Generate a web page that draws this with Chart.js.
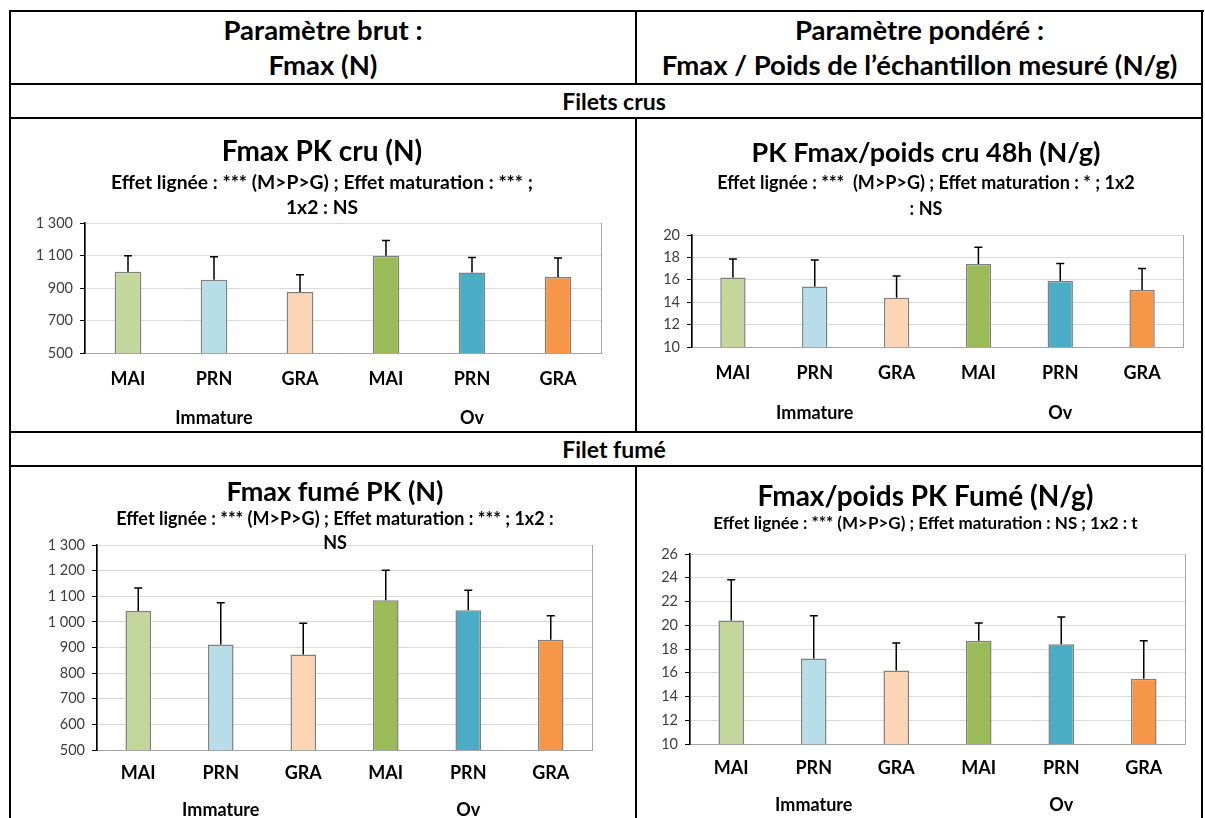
<!DOCTYPE html>
<html>
<head>
<meta charset="utf-8">
<script src="https://cdn.jsdelivr.net/npm/chart.js@4"></script>
<style>
  body { margin: 0; background: #fff; }
  #page { position: relative; width: 1205px; height: 818px; overflow: hidden; font-family: Lato, sans-serif; }
  .ln { position: absolute; background: #000; }
  .txt { position: absolute; text-align: center; font-weight: bold; color: #000; white-space: nowrap; }
  canvas { position: absolute; }
</style>
</head>
<body>
<div id="page">
  <!-- table rules -->
  <div class="ln" style="left:9px;top:10px;width:1195px;height:2px"></div>
  <div class="ln" style="left:9px;top:10px;width:2px;height:808px"></div>
  <div class="ln" style="left:1201px;top:10px;width:2px;height:808px"></div>
  <div class="ln" style="left:9px;top:83px;width:1194px;height:2px"></div>
  <div class="ln" style="left:9px;top:117px;width:1194px;height:2px"></div>
  <div class="ln" style="left:9px;top:431px;width:1194px;height:2px"></div>
  <div class="ln" style="left:9px;top:465px;width:1194px;height:2px"></div>
  <div class="ln" style="left:635px;top:10px;width:2px;height:74px"></div>
  <div class="ln" style="left:635px;top:118px;width:2px;height:314px"></div>
  <div class="ln" style="left:635px;top:466px;width:2px;height:352px"></div>

  <div class="txt" style="left:12px;width:622px;top:12px;line-height:35px;font-size:27.5px">Paramètre brut :<br>Fmax (N)</div>
  <div class="txt" style="left:638px;width:563px;top:12px;line-height:35px;font-size:27.5px">Paramètre pondéré :<br>Fmax / Poids de l’échantillon mesuré (N/g)</div>
  <div class="txt" style="left:514px;width:200px;top:84px;line-height:34px;font-size:23px">Filets crus</div>
  <div class="txt" style="left:514px;width:200px;top:432px;line-height:34px;font-size:23px">Filet fumé</div>

  <canvas id="c1" width="620" height="311" style="left:12px;top:120px"></canvas>
  <canvas id="c2" width="572" height="311" style="left:640px;top:120px"></canvas>
  <canvas id="c3" width="646" height="350" style="left:12px;top:468px"></canvas>
  <canvas id="c4" width="571" height="350" style="left:640px;top:468px"></canvas>
</div>

<script>
const categories = ["MAI", "PRN", "GRA", "MAI", "PRN", "GRA"];
const groups = ["", "Immature", "", "", "Ov", ""];
const barColors = ["#C3D69B", "#B7DEE8", "#FCD5B5", "#9BBB59", "#4BACC6", "#F79646"];

// Filets crus
const fmaxCru = [1000, 951, 875, 1098, 996, 967];
const fmaxCruErr = [98, 141, 107, 94, 92, 117];
const poidsCru = [16.2, 15.4, 14.4, 17.4, 15.9, 15.1];
const poidsCruErr = [1.65, 2.36, 1.93, 1.5, 1.56, 1.9];

// Filet fume
const fmaxFume = [1042, 912, 873, 1084, 1045, 930];
const fmaxFumeErr = [90, 163, 122, 117, 78, 94];
const poidsFume = [20.4, 17.2, 16.2, 18.7, 18.4, 15.5];
const poidsFumeErr = [3.44, 3.6, 2.3, 1.5, 2.3, 3.2];

// y axis ranges: [min, max, step]
const fmaxCruTicks = [500, 1300, 200];
const poidsCruTicks = [10, 20, 2];
const fmaxFumeTicks = [500, 1300, 100];
const poidsFumeTicks = [10, 26, 2];

const FONT = "Lato";
const CAT_SIZE = 18;
const GROUP_SIZE = 18;
const CAT_BOX = 45;

function frNumber(v) {
    if (v >= 1000) {
        return Math.floor(v / 1000) + " " + String(v % 1000).padStart(3, "0");
    }
    return String(v);
}

const plotBorder = {
    id: "plotBorder",
    beforeDraw(chart) {
        const { ctx, chartArea } = chart;
        ctx.save();
        ctx.strokeStyle = "#a6a6a6";
        ctx.lineWidth = 1;
        ctx.strokeRect(Math.round(chartArea.left) + 0.5, Math.round(chartArea.top) + 0.5,
            Math.round(chartArea.right - chartArea.left), Math.round(chartArea.bottom - chartArea.top));
        ctx.restore();
    },
};

const errorBars = {
    id: "errorBars",
    afterDatasetsDraw(chart) {
        const ctx = chart.ctx;
        const yScale = chart.scales.y;
        chart.data.datasets.forEach((ds, i) => {
            chart.getDatasetMeta(i).data.forEach((bar, j) => {
                const top = yScale.getPixelForValue(ds.data[j] + ds.errors[j]);
                ctx.save();
                ctx.strokeStyle = "#000";
                ctx.lineWidth = 1.5;
                ctx.beginPath();
                ctx.moveTo(bar.x, bar.y);
                ctx.lineTo(bar.x, top);
                ctx.moveTo(bar.x - 4, top);
                ctx.lineTo(bar.x + 4, top);
                ctx.stroke();
                ctx.restore();
            });
        });
    },
};

// o.box: canvas-relative plot rectangle [left, top, right, bottom]
// o.textY: canvas-relative centre lines [title, first subtitle line, categories, groups]
function buildChart(id, o) {
    const canvas = document.getElementById(id);
    const ctx = canvas.getContext("2d");
    const [left, top, right, bottom] = o.box;
    const [titleY, subY, catY, groupY] = o.textY;
    const titleLH = o.titleSize * 1.2;
    const subLines = Array.isArray(o.subtitle) ? o.subtitle.length : 1;
    const subTop = subY - o.subLH / 2;
    const catLH = CAT_SIZE * 1.2;
    const groupLH = GROUP_SIZE * 1.2;

    return new Chart(ctx, {
        type: "bar",
        data: {
            labels: categories,
            datasets: [
                {
                    data: o.values,
                    errors: o.errors,
                    backgroundColor: barColors,
                    borderColor: "#808080",
                    borderWidth: 1.5,
                    barPercentage: 0.31,
                    categoryPercentage: 1,
                },
            ],
        },
        options: {
            responsive: false,
            animation: false,
            layout: { padding: 0 },
            plugins: {
                legend: { display: false },
                tooltip: { enabled: false },
                title: {
                    display: true,
                    text: o.title,
                    color: "#000",
                    font: { family: FONT, size: o.titleSize, weight: "bold", lineHeight: 1.2 },
                    padding: { top: titleY - titleLH / 2, bottom: 0 },
                },
                subtitle: {
                    display: true,
                    text: o.subtitle,
                    color: "#000",
                    font: { family: FONT, size: o.subSize, weight: "bold", lineHeight: o.subLH / o.subSize },
                    padding: {
                        top: subTop - (titleY + titleLH / 2),
                        bottom: top - subTop - subLines * o.subLH,
                    },
                },
            },
            scales: {
                x: {
                    offset: true,
                    grid: { display: false, drawTicks: false, tickLength: 0 },
                    border: { color: "#a6a6a6", width: 1 },
                    ticks: {
                        color: "#000",
                        font: { family: FONT, size: CAT_SIZE, weight: "bold", lineHeight: 1.2 },
                        padding: catY - bottom - catLH / 2,
                        autoSkip: false,
                        maxRotation: 0,
                    },
                    afterFit: (s) => { s.height = CAT_BOX; },
                },
                x2: {
                    type: "category",
                    position: "bottom",
                    weight: 1,
                    offset: true,
                    labels: groups,
                    grid: { display: false, drawTicks: false, tickLength: 0 },
                    border: { display: false },
                    ticks: {
                        color: "#000",
                        font: { family: FONT, size: GROUP_SIZE, weight: "bold", lineHeight: 1.2 },
                        padding: groupY - (bottom + CAT_BOX) - groupLH / 2,
                        autoSkip: false,
                        maxRotation: 0,
                    },
                    afterFit: (s) => { s.height = canvas.height - bottom - CAT_BOX; },
                },
                y: {
                    min: o.ticks[0],
                    max: o.ticks[1],
                    grid: { color: "#d9d9d9", tickColor: "#000", tickLength: 5 },
                    border: { color: "#000", width: 1.5 },
                    ticks: {
                        stepSize: o.ticks[2],
                        color: "#404040",
                        font: { family: FONT, size: 14.5 },
                        padding: 7,
                        callback: (v) => frNumber(v),
                    },
                    afterFit: (s) => { s.width = left; },
                },
                // empty right axis, only reserves the space right of the plot
                yR: {
                    type: "linear",
                    position: "right",
                    display: true,
                    grid: { display: false },
                    border: { display: false },
                    ticks: { display: false },
                    afterFit: (s) => { s.width = canvas.width - right; },
                },
            },
        },
        plugins: [plotBorder, errorBars],
    });
}

buildChart("c1", {
    values: fmaxCru, errors: fmaxCruErr, ticks: fmaxCruTicks,
    title: "Fmax PK cru (N)",
    subtitle: ["Effet lignée : *** (M>P>G) ; Effet maturation : *** ;", "1x2 : NS"],
    titleSize: 28, subSize: 19.3, subLH: 25,
    box: [73, 103, 589, 233],
    textY: [32, 63, 259, 298],
});

buildChart("c2", {
    values: poidsCru, errors: poidsCruErr, ticks: poidsCruTicks,
    title: "PK Fmax/poids cru 48h (N/g)",
    subtitle: ["Effet lignée : ***  (M>P>G) ; Effet maturation : * ; 1x2", ": NS"],
    titleSize: 27, subSize: 18, subLH: 26,
    box: [52, 115, 543, 227],
    textY: [33, 63, 253, 293],
});

buildChart("c3", {
    values: fmaxFume, errors: fmaxFumeErr, ticks: fmaxFumeTicks,
    title: "Fmax fumé PK (N)",
    subtitle: ["Effet lignée : *** (M>P>G) ; Effet maturation : *** ; 1x2 :", "NS"],
    titleSize: 27, subSize: 18, subLH: 24,
    box: [85, 77, 580, 282],
    textY: [24, 51, 305, 342],
});

buildChart("c4", {
    values: poidsFume, errors: poidsFumeErr, ticks: poidsFumeTicks,
    title: "Fmax/poids PK Fumé (N/g)",
    subtitle: "Effet lignée : *** (M>P>G) ; Effet maturation : NS ; 1x2 : t",
    titleSize: 28, subSize: 17, subLH: 20,
    box: [50, 86, 545, 276],
    textY: [29, 56, 300, 337],
});
</script>
</body>
</html>
